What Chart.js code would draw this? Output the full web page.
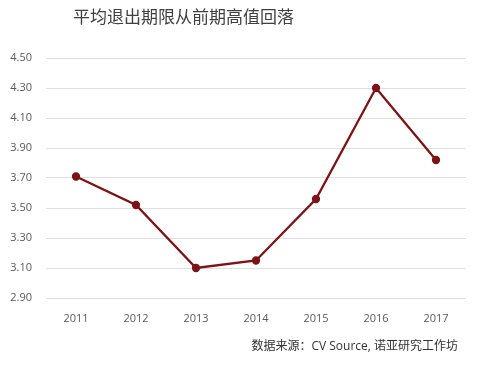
<!DOCTYPE html>
<html lang="zh">
<head>
    <meta charset="UTF-8">
    <title>平均退出期限从前期高值回落</title>
    <script src="https://cdn.jsdelivr.net/npm/chart.js"></script>
    <style>
        html, body { margin: 0; padding: 0; background: #fff; }
        #wrap { width: 488px; height: 366px; position: relative; }
    </style>
</head>
<body>
    <div id="wrap"><canvas id="exitChart"></canvas></div>
    <script>
        // data
        const years = ['2011', '2012', '2013', '2014', '2015', '2016', '2017'];
        const exitYears = [3.71, 3.52, 3.10, 3.15, 3.56, 4.30, 3.82];
        const yTicks = [2.90, 3.10, 3.30, 3.50, 3.70, 3.90, 4.10, 4.30, 4.50];

        const titleText = '平均退出期限从前期高值回落';
        const sourceText = '数据来源：CV Source, 诺亚研究工作坊';
        const cjk = '"Open Sans", "Noto Sans CJK SC", sans-serif';

        // title + source note
        const textPlugin = {
            id: 'texts',
            afterDraw(chart) {
                const ctx = chart.ctx;
                ctx.save();
                ctx.fillStyle = '#404040';
                ctx.font = '17px ' + cjk;
                ctx.textAlign = 'left';
                ctx.textBaseline = 'middle';
                ctx.fillText(titleText, 73, 18);
                ctx.fillStyle = '#333';
                ctx.font = '12px ' + cjk;
                ctx.textAlign = 'right';
                ctx.fillText(sourceText, 458, 347);
                ctx.restore();
            }
        };

        new Chart(document.getElementById('exitChart'), {
            type: 'line',
            data: {
                labels: years,
                datasets: [{
                    data: exitYears,
                    borderColor: '#7a1416',
                    backgroundColor: '#7a1416',
                    borderWidth: 2.3,
                    pointRadius: 3,
                    pointHoverRadius: 3,
                    tension: 0
                }]
            },
            options: {
                responsive: true,
                maintainAspectRatio: false,
                animation: false,
                layout: { padding: { top: 58, right: 22, bottom: 0, left: 0 } },
                plugins: {
                    legend: { display: false },
                    tooltip: { enabled: false }
                },
                scales: {
                    x: {
                        offset: true,
                        grid: { display: false },
                        border: { display: false },
                        ticks: { color: '#595959', font: { family: '"Open Sans", sans-serif', size: 11 }, padding: 6 },
                        afterFit(scale) { scale.height = 68; }
                    },
                    y: {
                        min: 2.9,
                        max: 4.5,
                        afterBuildTicks(scale) { scale.ticks = yTicks.map(v => ({ value: v })); },
                        grid: { color: '#e0e0e0', lineWidth: 1, drawTicks: false },
                        border: { display: false },
                        ticks: {
                            color: '#595959',
                            font: { family: '"Open Sans", sans-serif', size: 11 },
                            padding: 14,
                            callback: v => Number(v).toFixed(2)
                        },
                        afterFit(scale) { scale.width = 46; }
                    }
                }
            },
            plugins: [textPlugin]
        });
    </script>
</body>
</html>
